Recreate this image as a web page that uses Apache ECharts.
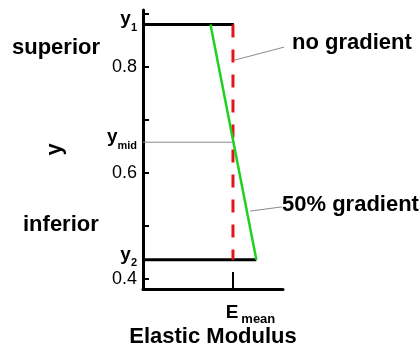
<!DOCTYPE html>
<html>
<head>
<meta charset="utf-8">
<script src="https://cdn.jsdelivr.net/npm/echarts@6/dist/echarts.min.js"></script>
<style>
html,body{margin:0;padding:0;background:#fff;}
#chart{width:419px;height:345px;}
</style>
</head>
<body>
<div id="chart"></div>
<script>
// ---- data ----
const yTickValues = [0.4, 0.5, 0.6, 0.7, 0.8, 0.9];
const yNumberLabels = [0.4, 0.6, 0.8];
const levelSubs = ['1', 'mid', '2'];
const levelValues = [0.88, 0.658, 0.436];      // y1, ymid, y2
const eMean = 1.0;
const noGradientE = [1.0, 1.0];               // E at y1, y2
const gradientE = [0.75, 1.26];               // E at y1, y2 (50% gradient)
const noGradLeader = [[1.02, 0.813], [1.58, 0.838]];
const gradLeader = [[1.19, 0.528], [1.545, 0.536]];
const regionNames = ['superior', 'inferior'];
const seriesNames = ['no gradient', '50% gradient'];

const FONT = "'Liberation Sans', Arial, Helvetica, sans-serif";
const close = (a, b) => Math.abs(a - b) < 1e-6;

const chart = echarts.init(document.getElementById('chart'), null, {renderer: 'canvas'});

const option = {
  animation: false,
  backgroundColor: '#fff',
  grid: {left: 143, right: 136, top: 10, bottom: 56, outerBoundsMode: 'none', containLabel: false},
  xAxis: {
    type: 'value', min: 0, max: 1.556,
    name: 'Elastic Modulus', nameLocation: 'middle', nameGap: 37, nameMoveOverlap: false,
    nameTextStyle: {fontFamily: FONT, fontWeight: 'bold', fontSize: 22, color: '#000'},
    axisLine: {show: true, lineStyle: {color: '#000', width: 3}},
    splitLine: {show: false},
    axisTick: {show: true, inside: true, length: 17, customValues: [eMean], lineStyle: {color: '#000', width: 2}},
    axisLabel: {
      show: true, customValues: [eMean], margin: 14, padding: [0, 0, 0, 35],
      formatter: () => '{e|E}{s|mean}',
      rich: {
        e: {fontFamily: FONT, fontWeight: 'bold', fontSize: 19, lineHeight: 19, color: '#000', verticalAlign: 'top'},
        s: {fontFamily: FONT, fontWeight: 'bold', fontSize: 13, lineHeight: 23, color: '#000', verticalAlign: 'bottom', padding: [0, 0, 0, 3]}
      }
    }
  },
  yAxis: {
    type: 'value', min: 0.381, max: 0.9075,
    name: 'y', nameLocation: 'middle', nameGap: 77, nameRotate: 90, nameMoveOverlap: false,
    nameTextStyle: {fontFamily: FONT, fontWeight: 'bold', fontSize: 22, color: '#000'},
    axisLine: {show: true, lineStyle: {color: '#000', width: 3}},
    splitLine: {show: false},
    axisTick: {show: true, inside: true, length: 6, customValues: yTickValues, lineStyle: {color: '#000', width: 2}},
    axisLabel: {
      show: true, margin: 6,
      customValues: yNumberLabels.concat(levelValues),
      formatter: (v) => {
        const i = levelValues.findIndex(x => close(x, v));
        if (i >= 0) return '{y|y}{s|' + levelSubs[i] + '}';
        return '{n|' + v.toFixed(1) + '}';
      },
      rich: {
        n: {fontFamily: FONT, fontSize: 18, lineHeight: 18, color: '#000'},
        y: {fontFamily: FONT, fontWeight: 'bold', fontSize: 19, lineHeight: 19, color: '#000', verticalAlign: 'top'},
        s: {fontFamily: FONT, fontWeight: 'bold', fontSize: 11, lineHeight: 30, color: '#000', verticalAlign: 'bottom', padding: [0, 0, 6, 0]}
      }
    }
  },
  series: [
    {type: 'line', name: 'y1', data: [[0, levelValues[0]], [noGradientE[0] + 0.01, levelValues[0]]],
     symbol: 'none', lineStyle: {color: '#000', width: 3}, z: 3},
    {type: 'line', name: 'y2', data: [[0, levelValues[2]], [gradientE[1], levelValues[2]]],
     symbol: 'none', lineStyle: {color: '#000', width: 3}, z: 3},
    {type: 'line', name: 'ymid', data: [[0, levelValues[1]], [eMean, levelValues[1]]],
     symbol: 'none', lineStyle: {color: '#8a8a8a', width: 1}, z: 2},
    {type: 'line', name: seriesNames[0], data: [[noGradientE[0], levelValues[0]], [noGradientE[1], levelValues[2]]],
     symbol: 'none', lineStyle: {color: '#e3141c', width: 3, type: [13, 12]}, z: 4},
    {type: 'line', name: seriesNames[1], data: [[gradientE[0], levelValues[0]], [gradientE[1], levelValues[2]]],
     symbol: 'none', lineStyle: {color: '#1fd21f', width: 2.5}, z: 5},
    {type: 'line', name: 'leader1', data: noGradLeader, clip: false,
     symbol: 'none', lineStyle: {color: '#8a8a8a', width: 1}, z: 2},
    {type: 'line', name: 'leader2', data: gradLeader, clip: false,
     symbol: 'none', lineStyle: {color: '#8a8a8a', width: 1}, z: 2}
  ],
  graphic: [
    {type: 'text', left: 12, top: 37, style: {text: regionNames[0], font: 'bold 22px ' + FONT, fill: '#000'}},
    {type: 'text', left: 23, top: 214, style: {text: regionNames[1], font: 'bold 22px ' + FONT, fill: '#000'}},
    {type: 'text', left: 292, top: 32, style: {text: seriesNames[0], font: 'bold 22px ' + FONT, fill: '#000'}},
    {type: 'text', left: 282, top: 194, style: {text: seriesNames[1], font: 'bold 22px ' + FONT, fill: '#000'}}
  ]
};
chart.setOption(option);
</script>
</body>
</html>
